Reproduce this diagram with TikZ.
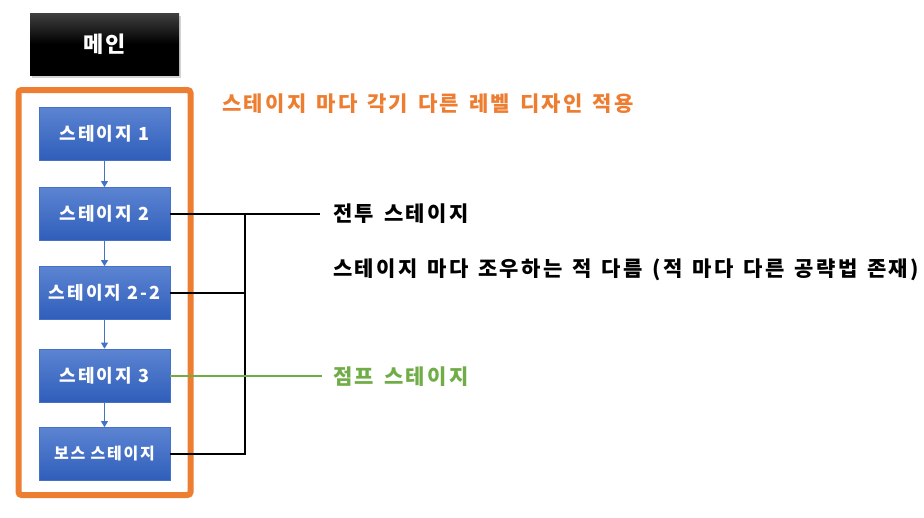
\documentclass[tikz,border=0pt]{standalone}
\usepackage{fontspec}
\setmainfont{Noto Sans CJK KR}[LetterSpace=11]
\usetikzlibrary{shadows,arrows.meta}
\definecolor{orng}{HTML}{ED7D31}
\definecolor{grn}{HTML}{70AD47}
\definecolor{bl}{HTML}{4472C4}
\definecolor{bltop}{HTML}{5C84D2}
\definecolor{blbot}{HTML}{2F5EBA}
\newcommand\widesp{\spaceskip=10pt\relax}
\tikzset{
  stagebox/.style={draw=bl, line width=0.8pt, top color=bltop, bottom color=blbot,
    minimum width=131pt, minimum height=53pt, inner sep=0pt, text=white,
    font=\bfseries\fontsize{18}{21}\selectfont},
  mainbox/.style={top color=black!75, bottom color=black, middle color=black, minimum width=149pt, minimum height=62pt,
    inner sep=0pt, text=white, font=\bfseries\fontsize{22}{26}\selectfont,
    drop shadow={shadow xshift=2pt, shadow yshift=-3pt, opacity=0.35}},
  flow/.style={draw=bl, line width=0.9pt, -{Triangle[length=6pt,width=7pt]}},
  link/.style={draw=black, line width=1.8pt},
  gline/.style={draw=grn, line width=2pt},
  label/.style={anchor=west, inner sep=0pt, font=\bfseries\fontsize{21}{25}\selectfont\widesp},
}
\begin{document}
\begin{tikzpicture}[x=1pt,y=-1pt]
\useasboundingbox (0,0) rectangle (924,517);
\node[mainbox] (main) at (104.5,44) {메인};
\node[draw=orng, line width=6pt, rounded corners=3pt, minimum width=172pt, minimum height=405pt, inner sep=0pt] (frame) at (104.5,292.5) {};
\node[stagebox] (s1) at (104.5,133.5) {스테이지 1};
\node[stagebox] (s2) at (104.5,214) {스테이지 2};
\node[stagebox] (s22) at (104.5,293) {스테이지 2-2};
\node[stagebox] (s3) at (104.5,375.5) {스테이지 3};
\node[stagebox, font=\bfseries\fontsize{16}{19}\selectfont] (boss) at (104.5,454) {보스 스테이지};
\draw[flow] (s1) -- (s2);
\draw[flow] (s2) -- (s22);
\draw[flow] (s22) -- (s3);
\draw[flow] (s3) -- (boss);
\coordinate (t1) at (320,214);
\coordinate (j) at (245,214);
\coordinate (g1) at (322,375.5);
\draw[link] (s2.east) -- (t1);
\draw[link] (s22.east) -- (s22.east -| j);
\draw[link] (boss.east) -| (j);
\draw[gline] (s3.east) -- (g1);
\node[label, text=orng] (title) at (222,104) {스테이지 마다 각기 다른 레벨 디자인 적용};
\node[label] (battle) at (333,214) {전투 스테이지};
\node[label] (enemy) at (333,270) {스테이지 마다 조우하는 적 다름 (적 마다 다른 공략법 존재)};
\node[label, text=grn] (jump) at (333,377) {점프 스테이지};
\end{tikzpicture}
\end{document}
